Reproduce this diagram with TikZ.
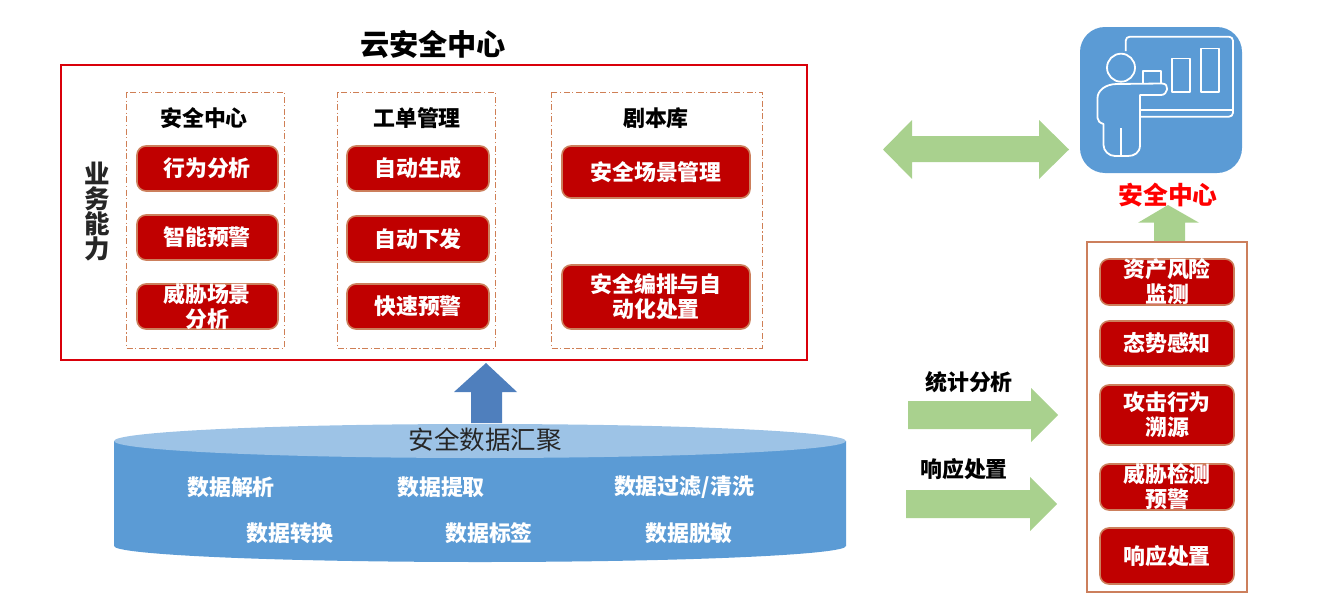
\documentclass[tikz,border=0pt]{standalone}
\usepackage{fontspec}
\setmainfont{Noto Sans CJK SC}
\usetikzlibrary{calc}
\definecolor{btnfill}{HTML}{C00000}
\definecolor{btnedge}{HTML}{CC7F5C}
\definecolor{frame}{HTML}{D9000A}
\definecolor{dashc}{HTML}{CF7F55}
\definecolor{iconb}{HTML}{5B9BD5}
\definecolor{cyltop}{HTML}{9DC3E6}
\definecolor{upblue}{HTML}{4F7FBD}
\definecolor{green}{HTML}{A9D18E}
\newcommand{\fs}[2]{\fontsize{#1}{#2}\selectfont}
\tikzset{
  x=1pt,y=-1pt,
  btn/.style={draw=btnedge,line width=1.6pt,fill=btnfill,rounded corners=9pt,inner sep=0pt},
  btntext/.style={text=white,font=\fs{21.9}{25}\bfseries,align=center,inner sep=0pt},
  head/.style={text=black,font=\fs{21.9}{25}\bfseries,align=center,inner sep=0pt},
  dashbox/.style={draw=dashc,line width=0.9pt,dash pattern=on 6pt off 2.5pt on 1.2pt off 2.5pt},
  blockarrow/.style={fill=green,draw=none},
  iconline/.style={draw=white,line width=1.8pt,line join=round},
}
\begin{document}
\begin{tikzpicture}
\useasboundingbox (0,0) rectangle (1319,597);
% main frame
\draw[frame,line width=2pt] (61,65) rectangle (807,360);
\node[text=black,font=\fs{29.2}{32}\bfseries,inner sep=0pt] (title) at (433,44) {云安全中心};
\node[text=black!85,font=\fs{25.5}{25}\bfseries,align=center,inner sep=0pt] (ability) at (97,212) {业\\务\\能\\力};
% dashed groups
\draw[dashbox] (126.5,92) rectangle (284,348);
\draw[dashbox] (337.5,92) rectangle (495,348);
\draw[dashbox] (551.5,92) rectangle (762,348);
\node[head] (h1) at (204,118) {安全中心};
\node[head] (h2) at (417,118) {工单管理};
\node[head] (h3) at (656,118) {剧本库};
% buttons column 1
\draw[btn] (137,146) rectangle (278,191);
\draw[btn] (137,215) rectangle (278,260);
\draw[btn] (137,284) rectangle (278,329);
\node[btntext] (a1) at (207,168) {行为分析};
\node[btntext] (a2) at (207,237) {智能预警};
\node[btntext] (a3) at (207,306.5) {威胁场景\\分析};
% column 2
\draw[btn] (347,146) rectangle (489,191);
\draw[btn] (347,216) rectangle (489,262);
\draw[btn] (347,284) rectangle (489,329);
\node[btntext] (b1) at (418,168) {自动生成};
\node[btntext] (b2) at (418,239) {自动下发};
\node[btntext] (b3) at (418,306) {快速预警};
% column 3
\draw[btn] (562,146) rectangle (750,198);
\draw[btn] (562,265) rectangle (750,329);
\node[btntext] (c1) at (656,172) {安全场景管理};
\node[btntext] (c2) at (656,297) {安全编排与自\\动化处置};
% blue up arrow
\fill[upblue] (486,363) -- (517,392) -- (502,392) -- (502,423) -- (471,423) -- (471,392) -- (454,392) -- cycle;
% cylinder
\fill[iconb] (114,441) -- (114,546) arc[start angle=180,end angle=360,x radius=366,y radius=-16] -- (846,441) -- cycle;
\fill[cyltop] (480,441) ellipse[x radius=366,y radius=17];
\node[text=black!85,font=\fs{25.5}{28},inner sep=0pt] (d0) at (485,440) {安全数据汇聚};
\node[btntext] (d1) at (231,487) {数据解析};
\node[btntext] (d2) at (441,487) {数据提取};
\node[btntext] (d3) at (684,487) {数据过滤/清洗};
\node[btntext] (d4) at (290,533) {数据转换};
\node[btntext] (d5) at (489,533) {数据标签};
\node[btntext] (d6) at (689,533) {数据脱敏};
% double arrow
\fill[blockarrow] (883,149.5) -- (912,120) -- (912,136) -- (1039,136) -- (1039,120) -- (1069,149.5) -- (1039,179) -- (1039,162) -- (912,162) -- (912,179) -- cycle;
% icon
\fill[iconb,rounded corners=25pt] (1160,27) -- (1242,27) -- (1242,173) -- (1080,173) -- (1080,27) -- cycle;
\draw[iconline,rounded corners=4pt] (1125.7,51) -- (1125.7,36.7) -- (1233,36.7) -- (1233,116.7) -- (1140,116.7);
\draw[iconline] (1140,110) -- (1233,110);
\draw[iconline] (1171.7,58.5) rectangle (1190,92);
\draw[iconline] (1200.7,48.5) rectangle (1219,92);
\draw[iconline] (1143,83) -- (1143,71) -- (1160.7,71) -- (1160.7,83);
\draw[iconline] (1121,67.7) circle[radius=14];
\draw[iconline] (1117,84) -- (1162,83.5) .. controls (1170,83.5) and (1168,95) .. (1161,95) -- (1140,95) -- (1140,145) .. controls (1140,153) and (1134,156) .. (1128,156) -- (1115,156) .. controls (1109,156) and (1103.5,151) .. (1103.5,145) -- (1103.5,124) .. controls (1100,123) and (1097.5,121) .. (1097.5,118) -- (1097.5,98) .. controls (1097.5,91) and (1105,84) .. (1117,84) -- cycle;
\draw[iconline] (1121,128) -- (1121,155);
\node[text=red,font=\fs{24.8}{27}\bfseries,inner sep=0pt] (secc) at (1168,195) {安全中心};
% up green arrow
\fill[blockarrow] (1168,205) -- (1199,222.7) -- (1185,222.7) -- (1185,242) -- (1154,242) -- (1154,222.7) -- (1138,222.7) -- cycle;
% right frame
\draw[draw=btnedge,line width=2pt] (1087,242) rectangle (1247,592);
\draw[btn] (1100,259) rectangle (1234,305);
\draw[btn] (1100,321) rectangle (1234,366);
\draw[btn] (1100,385) rectangle (1234,445);
\draw[btn] (1100,464) rectangle (1234,510);
\draw[btn] (1100,528) rectangle (1234,584);
\node[btntext] (r1) at (1167,282) {资产风险\\监测};
\node[btntext] (r2) at (1167,343) {态势感知};
\node[btntext] (r3) at (1167,415) {攻击行为\\溯源};
\node[btntext] (r4) at (1167,487) {威胁检测\\预警};
\node[btntext] (r5) at (1167,556) {响应处置};
% green arrows
\fill[blockarrow] (908,401) -- (1031,401) -- (1031,388) -- (1058,415) -- (1031,442) -- (1031,429) -- (908,429) -- cycle;
\fill[blockarrow] (906,490) -- (1030,490) -- (1030,477) -- (1057,504) -- (1030,531) -- (1030,518) -- (906,518) -- cycle;
\node[head] (s1) at (969,382) {统计分析};
\node[head] (s2) at (964,469) {响应处置};
\end{tikzpicture}
\end{document}
